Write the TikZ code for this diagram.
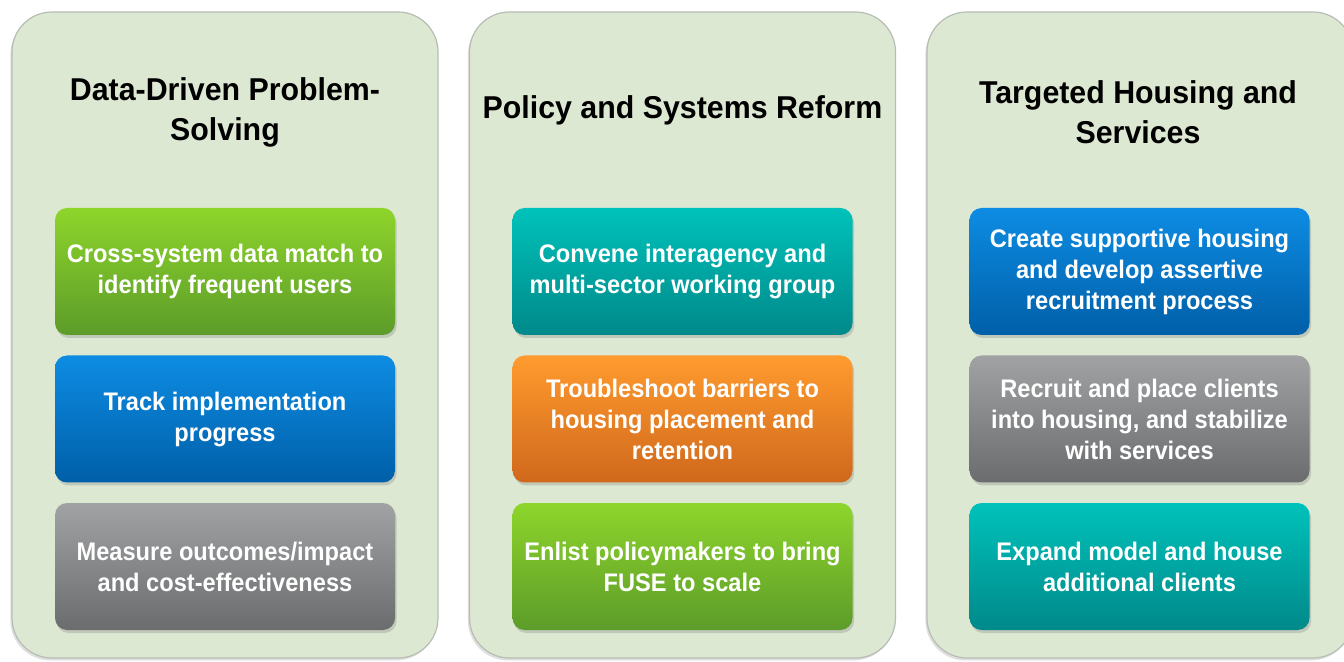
\documentclass[tikz,border=0pt]{standalone}
\usepackage{fontspec}
\setmainfont{Liberation Sans}
\newfontfamily\cardfont{Liberation Sans}[FakeStretch=0.93]
\newfontfamily\titlefont{Liberation Sans}[FakeStretch=0.96]
\usetikzlibrary{shadows}
\definecolor{panelfill}{HTML}{DDE8D3}
\definecolor{panelline}{HTML}{B8BDB4}
\definecolor{greenT}{HTML}{8ED52B}\definecolor{greenB}{HTML}{5C9C2A}
\definecolor{blueT}{HTML}{0D8CE3}\definecolor{blueB}{HTML}{005FA8}
\definecolor{grayT}{HTML}{A0A2A4}\definecolor{grayB}{HTML}{6A6C6E}
\definecolor{tealT}{HTML}{00C2BA}\definecolor{tealB}{HTML}{00898A}
\definecolor{orangeT}{HTML}{FF9B2E}\definecolor{orangeB}{HTML}{D0681C}
\begin{document}
\begin{tikzpicture}[x=0.5pt,y=-0.5pt,
  panel/.style={draw=panelline, line width=0.6pt, fill=panelfill, rounded corners=20pt,
    minimum width=213pt, minimum height=323pt, inner sep=0pt,
    drop shadow={shadow xshift=-0.8pt, shadow yshift=-1.2pt, opacity=0.25}},
  card/.style={rounded corners=6pt, minimum width=170pt, minimum height=63.5pt,
    align=center, text=white, font=\cardfont\bfseries\fontsize{12.7}{15.5}\selectfont, inner sep=0pt,
    drop shadow={shadow xshift=0.8pt, shadow yshift=-1.5pt, opacity=0.3}},
  ttl/.style={align=center, font=\titlefont\bfseries\fontsize{15.8}{20}\selectfont, text=black},
  green/.style={top color=greenT, bottom color=greenB},
  blue/.style={top color=blueT, bottom color=blueB},
  grey/.style={top color=grayT, bottom color=grayB},
  teal/.style={top color=tealT, bottom color=tealB},
  orange/.style={top color=orangeT, bottom color=orangeB}]
\useasboundingbox (0,0) rectangle (1344,662);
\clip (0,0) rectangle (1344,662);
\fill[white] (0,0) rectangle (1344,662);
% panels
\node[panel] (p1) at (225,335) {};
\node[panel] (p2) at (682.5,335) {};
\node[panel] (p3) at (1140,335) {};
% titles
\node[ttl] (t1) at (225,112) {Data-Driven Problem-\\Solving};
\node[ttl] (t2) at (682.5,110) {Policy and Systems Reform};
\node[ttl] (t3) at (1138,112) {Targeted Housing and\\Services};
% column 1
\node[card,green] (a1) at (225,271.5) {Cross-system data match to\\identify frequent users};
\node[card,blue] (a2) at (225,419) {Track implementation\\progress};
\node[card,grey] (a3) at (225,566.5) {Measure outcomes/impact\\and cost-effectiveness};
% column 2
\node[card,teal] (b1) at (682.5,271.5) {Convene interagency and\\multi-sector working group};
\node[card,orange] (b2) at (682.5,419) {Troubleshoot barriers to\\housing placement and\\retention};
\node[card,green] (b3) at (682.5,566.5) {Enlist policymakers to bring\\FUSE to scale};
% column 3
\node[card,blue] (c1) at (1139.5,271.5) {Create supportive housing\\and develop assertive\\recruitment process};
\node[card,grey] (c2) at (1139.5,419) {Recruit and place clients\\into housing, and stabilize\\with services};
\node[card,teal] (c3) at (1139.5,566.5) {Expand model and house\\additional clients};
\end{tikzpicture}
\end{document}
